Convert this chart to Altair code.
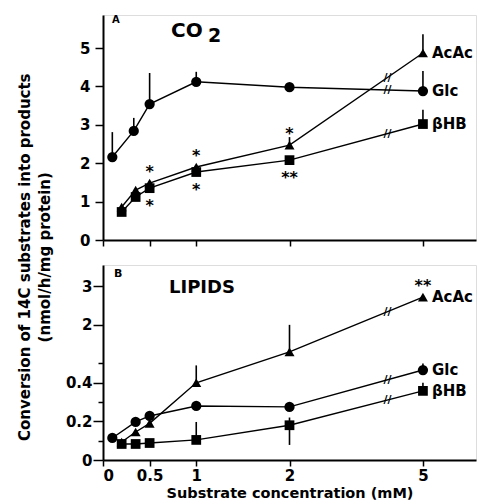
import altair as alt
import pandas as pd

# ---------------- data ----------------
series = ["AcAc", "Glc", "BHB"]
label_text = {"AcAc": "AcAc", "Glc": "Glc", "BHB": "βHB"}

# Panel A: CO2
a_conc = {"Glc": [0.1, 0.33, 0.5, 1, 2, 5],
          "AcAc": [0.2, 0.35, 0.5, 1, 2, 5],
          "BHB": [0.2, 0.35, 0.5, 1, 2, 5]}
a_val = {"Glc": [2.16, 2.84, 3.54, 4.12, 3.98, 3.88],
         "AcAc": [0.86, 1.30, 1.48, 1.90, 2.47, 4.87],
         "BHB": [0.73, 1.12, 1.35, 1.77, 2.08, 3.02]}
a_hi = {"Glc": [2.81, 3.18, 4.35, 4.38, None, 4.40],
        "AcAc": [None, None, None, None, 2.68, 5.36],
        "BHB": [None, None, None, None, None, 3.39]}
a_lo = {"Glc": [None] * 6, "AcAc": [None] * 6, "BHB": [None] * 6}
a_stars = [("AcAc", 0.5, "*", "up"), ("BHB", 0.5, "*", "down"),
           ("AcAc", 1, "*", "up"), ("BHB", 1, "*", "down"),
           ("AcAc", 2, "*", "up"), ("BHB", 2, "**", "down")]

# Panel B: lipids
b_conc = {"Glc": [0.1, 0.35, 0.5, 1, 2, 5],
          "AcAc": [0.2, 0.35, 0.5, 1, 2, 5],
          "BHB": [0.2, 0.35, 0.5, 1, 2, 5]}
b_val = {"Glc": [0.114, 0.197, 0.228, 0.28, 0.275, 0.466],
         "AcAc": [0.093, 0.145, 0.19, 0.40, 1.30, 2.72],
         "BHB": [0.083, 0.083, 0.088, 0.104, 0.18, 0.358]}
b_hi = {"Glc": [None, None, None, None, None, 0.50],
        "AcAc": [None, None, None, 0.49, 2.0, None],
        "BHB": [None, None, None, 0.197, 0.22, 0.40]}
b_lo = {"Glc": [None] * 6, "AcAc": [None] * 6,
        "BHB": [None, None, None, None, 0.078, None]}
b_stars = [("AcAc", 5, "**", "up")]

a_yticks = [0, 1, 2, 3, 4, 5]
b_yticks = [0, 0.1, 0.2, 0.3, 0.4, 0.5, 2, 3]
x_ticks = [0, 0.5, 1, 2, 5]
BREAK_X = 3.05  # display position of the '//' axis-break marks

FONT = "DejaVu Sans"


# ---------------- broken-axis transforms ----------------
def xd(c):
    return c if c <= 2 else 2 + (c - 2) * 0.477


def ya(v):
    return v


def yb(v):
    return v * 5 if v <= 0.5 else 2.5 + (v - 1)


def build(conc, val, hi, lo, stars, yf):
    pts, errs, brk, st = [], [], [], []
    for s in series:
        for c, v, h, l in zip(conc[s], val[s], hi[s], lo[s]):
            pts.append({"s": s, "x": xd(c), "y": yf(v), "lab": label_text[s] if c == 5 else ""})
            if h is not None:
                errs.append({"s": s, "x": xd(c), "y": yf(v), "y2": yf(h)})
            if l is not None:
                errs.append({"s": s, "x": xd(c), "y": yf(v), "y2": yf(l)})
        i2 = conc[s].index(2)
        i5 = conc[s].index(5)
        x2, x5 = xd(2), xd(5)
        y2, y5 = yf(val[s][i2]), yf(val[s][i5])
        brk.append({"s": s, "x": BREAK_X, "y": y2 + (y5 - y2) * (BREAK_X - x2) / (x5 - x2)})
    for s, c, t, side in stars:
        v = val[s][conc[s].index(c)]
        st.append({"x": xd(c), "y": yf(v), "t": t, "side": side})
    return pd.DataFrame(pts), pd.DataFrame(errs), pd.DataFrame(brk), pd.DataFrame(st)


shape_scale = alt.Scale(domain=["Glc", "AcAc", "BHB"], range=["circle", "triangle-up", "square"])
size_scale = alt.Scale(domain=["Glc", "AcAc", "BHB"], range=[105, 95, 60])

XMAX = 4.0
one = pd.DataFrame({"k": [0]})


def annot(text, x, y, size, align="left"):
    return alt.Chart(one).mark_text(font=FONT, fontSize=size, fontWeight="bold", align=align,
                                    baseline="middle", color="black").encode(
        x=alt.value(x), y=alt.value(y), text=alt.value(text))


def panel(pts, errs, brk, st, ymax, yvals, ylabel_expr, minor_test, tick_major, pad_major,
          show_x_labels, height, annots):
    xaxis = alt.Axis(values=[xd(c) for c in x_ticks], grid=False, tickCount=20,
                     labels=show_x_labels, labelOverlap=False,
                     labelExpr="datum.value > 3 ? '5' : '' + datum.value",
                     title="Substrate concentration (mM)" if show_x_labels else None,
                     titleFont=FONT, titleFontSize=14.5, titleFontWeight="bold", titlePadding=3,
                     labelFont=FONT, labelFontSize=15, labelFontWeight="bold", labelPadding=2,
                     tickSize=6, tickWidth=1.5, domainWidth=2, domainColor="black",
                     tickColor="black", labelColor="black", titleColor="black")
    yaxis = alt.Axis(values=yvals, grid=False, labelExpr=ylabel_expr, title=None,
                     labelOverlap=False, tickCount=20,
                     labelFont=FONT, labelFontSize=15, labelFontWeight="bold",
                     labelPadding=pad_major,
                     tickSize={"condition": {"test": minor_test, "value": 5}, "value": tick_major},
                     tickWidth=1.5, domainWidth=2, domainColor="black",
                     tickColor="black", labelColor="black")
    y_enc = alt.Y("y:Q", scale=alt.Scale(domain=[0, ymax], nice=False, zero=False), axis=yaxis)
    xe = alt.X("x:Q", scale=alt.Scale(domain=[0, XMAX], nice=False, zero=False), axis=xaxis)

    base = alt.Chart(pts)
    lines = base.mark_line(color="black", strokeWidth=1.4).encode(
        x=xe, y=y_enc, detail="s:N", order="x:Q")
    errbars = alt.Chart(errs).mark_rule(color="black", strokeWidth=1.6).encode(
        x="x:Q", y="y:Q", y2="y2:Q")
    points = base.mark_point(filled=True, color="black", opacity=1).encode(
        x="x:Q", y="y:Q",
        shape=alt.Shape("s:N", scale=shape_scale, legend=None),
        size=alt.Size("s:N", scale=size_scale, legend=None))
    labels = base.mark_text(align="left", baseline="middle", dx=9, font=FONT,
                            fontSize=15, fontWeight="bold", color="black").encode(
        x="x:Q", y="y:Q", text="lab:N")
    breaks = alt.Chart(brk).mark_text(font=FONT, fontSize=11, fontWeight="bold",
                                      baseline="middle", align="center", color="black").encode(
        x="x:Q", y="y:Q", text=alt.value("//"))
    layers = [lines, errbars, points, labels, breaks]
    if len(st):
        up = st[st.side == "up"]
        dn = st[st.side == "down"]
        if len(up):
            layers.append(alt.Chart(up).mark_text(
                font=FONT, fontSize=16, fontWeight="bold", baseline="middle", dy=-11,
                color="black").encode(x="x:Q", y="y:Q", text="t:N"))
        if len(dn):
            layers.append(alt.Chart(dn).mark_text(
                font=FONT, fontSize=16, fontWeight="bold", baseline="middle", dy=18,
                color="black").encode(x="x:Q", y="y:Q", text="t:N"))
    layers += annots
    return alt.layer(*layers).properties(width=373, height=height)


pA, eA, kA, sA = build(a_conc, a_val, a_hi, a_lo, a_stars, ya)
pB, eB, kB, sB = build(b_conc, b_val, b_hi, b_lo, b_stars, yb)

a_expr = "'' + datum.value"
b_vals = [yb(v) for v in b_yticks]
b_expr = ("datum.value < 0.01 ? '0' : abs(datum.value - 1) < 0.01 ? '0.2' : "
          "abs(datum.value - 2) < 0.01 ? '0.4' : abs(datum.value - 3.5) < 0.01 ? '2' : "
          "abs(datum.value - 4.5) < 0.01 ? '3' : ''")
b_minor = ("abs(datum.value - 0.5) < 0.01 || abs(datum.value - 1.5) < 0.01 || "
           "abs(datum.value - 2.5) < 0.01")

chartA = panel(pA, eA, kA, sA, 5.86, a_yticks, a_expr, "false", 8, 5, False, 225,
               [annot("A", 9, 5, 10), annot("CO", 68, 16, 20), annot("2", 105, 21, 19)])
chartB = panel(pB, eB, kB, sB, 5.05, b_vals, b_expr, b_minor, 10, 1, True, 195,
               [annot("B", 11, 9, 11), annot("LIPIDS", 66, 23, 18)])

chart = alt.vconcat(chartA, chartB, spacing=15).properties(
    title=alt.TitleParams(
        text=["Conversion of 14C substrates into products", "(nmol/h/mg protein)"],
        orient="left", anchor="middle", font=FONT, fontSize=15, fontWeight="bold",
        lineHeight=20, offset=12, color="black"),
    padding={"left": 9, "top": 6, "right": 0, "bottom": 0},
).configure_view(stroke=None).configure(background="white")

chart.save("out.html", embed_options={"renderer": "svg", "actions": False})
